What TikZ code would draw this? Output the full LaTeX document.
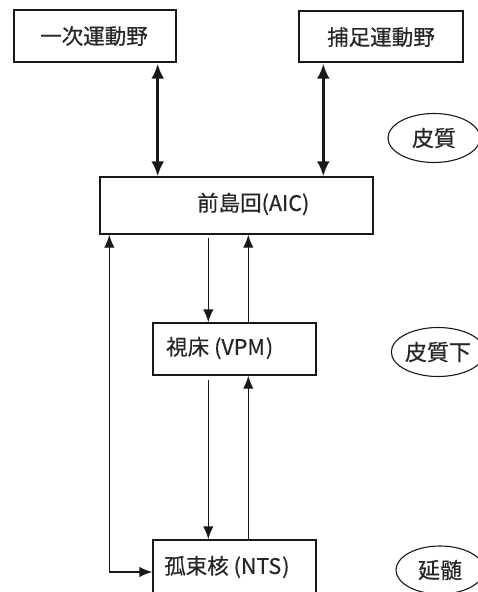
\documentclass[tikz,border=0pt]{standalone}
\usepackage{fontspec}
\setmainfont{Noto Sans CJK JP}[FakeBold=0.5]
\usetikzlibrary{arrows.meta,shapes.geometric,calc}
\tikzset{
  box/.style={draw=black!90, line width=1.4pt, inner sep=0pt, rectangle},
  lbl/.style={inner sep=0pt, font=\fontsize{21.5}{24}\selectfont, anchor=west, text=black!85},
  oval/.style={draw=black!90, line width=1.1pt, ellipse, inner sep=0pt, font=\fontsize{22}{24}\selectfont, text=black!85},
  thick arrow/.style={draw=black!90, line width=2.8pt, {Latex[length=15pt,width=13pt]}-{Latex[length=15pt,width=13pt]}},
  thin arrow/.style={draw=black!90, line width=1.4pt, -{Latex[length=13pt,width=10.5pt]}},
  thin both/.style={draw=black!90, line width=1.4pt, {Latex[length=13pt,width=10.5pt]}-{Latex[length=13pt,width=10.5pt]}},
}
\begin{document}
\begin{tikzpicture}[x=1pt,y=-1pt]
\useasboundingbox (0,0) rectangle (478,592);
\clip (0,0) rectangle (478,592);
% boxes
\node[box, minimum width=162pt, minimum height=52pt] (m1) at (95,36) {};
\node[lbl, anchor=center] (m1t) at (94,36) {一次運動野};
\node[box, minimum width=164pt, minimum height=51pt] (m2) at (381,36.5) {};
\node[lbl, anchor=center] (m2t) at (381,37) {捕足運動野};
\node[box, minimum width=273pt, minimum height=57pt] (aic) at (236.5,205.5) {};
\node[lbl] (aict) at (197,204) {前島回(AIC)};
\node[box, minimum width=163pt, minimum height=52pt] (vpm) at (234.5,349) {};
\node[lbl] (vpmt) at (166,348) {視床\hspace{5pt}(VPM\hspace{1pt})};
\node[box, minimum width=163pt, minimum height=60pt] (nts) at (234.5,570) {};
\node[lbl] (ntst) at (164,567) {孤束核\hspace{5pt}(NTS\hspace{1pt})};
% ovals
\node[oval, minimum width=92pt, minimum height=49pt] (o1) at (434,138) {皮質};
\node[oval, minimum width=92pt, minimum height=49pt] (o2) at (438,352) {皮質下};
\node[oval, minimum width=88pt, minimum height=48pt] (o3) at (440,570) {延髄};
% thick double arrows
\draw[thick arrow] (m1.south east) ++(-19,1) coordinate (a1) -- (a1 |- aic.north);
\draw[thick arrow] (m2.south west) ++(25,1) coordinate (a2) -- (a2 |- aic.north);
% AIC <-> VPM
\coordinate (d1) at ($(aic.south west)+(109,3)$);
\draw[thin arrow] (d1) -- (d1 |- vpm.north);
\coordinate (u1) at ($(vpm.north west)+(96,0)$);
\draw[thin arrow] (u1) -- (u1 |- aic.south);
% VPM <-> NTS
\coordinate (d2) at ($(vpm.south west)+(56,4)$);
\draw[thin arrow] (d2) -- (d2 |- nts.north);
\coordinate (u2) at ($(nts.north west)+(96,0)$);
\draw[thin arrow] (u2) -- (u2 |- vpm.south);
% left loop
\coordinate (lf) at ($(aic.south west)+(10,0)$);
\coordinate (lb) at ($(nts.west)+(0,2)$);
\draw[thin both] (lf) -- (lf |- lb) -- (lb);
\end{tikzpicture}
\end{document}
